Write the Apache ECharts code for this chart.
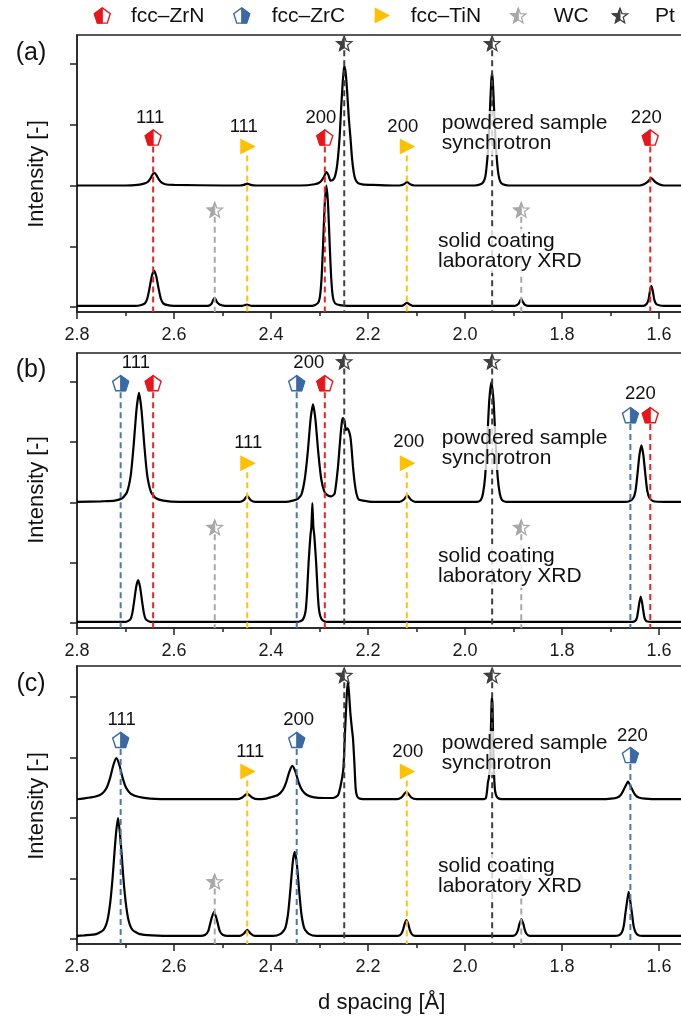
<!DOCTYPE html>
<html>
<head>
<meta charset="utf-8">
<script src="https://cdn.jsdelivr.net/npm/echarts@6.0.0/dist/echarts.min.js"></script>
<style>
  html, body { margin: 0; padding: 0; background: #fff; }
  #chart { width: 681px; height: 1017px; }
</style>
</head>
<body>
<div id="chart"></div>
<script>
const FONT = "'Liberation Sans', Arial, Helvetica, sans-serif";

// Reference reflections (d spacing, Å)
const HKL = ['111', '200', '220'];
const ZRN_D = [2.643, 2.289, 1.618];
const ZRC_D = [2.710, 2.347, 1.659];
const TIN_D = [2.449, 2.120];
const WC_D = [2.516, 1.884];
const PT_D = [2.249, 1.944];

// Diffraction patterns: [d spacing (Å), stacked intensity (a.u.)]
const A_SYNC = [[2.80,2.00],[2.70,2.00],[2.675,2.01],[2.662,2.03],[2.654,2.06],[2.649,2.11],[2.645,2.17],[2.641,2.21],[2.637,2.18],[2.632,2.11],[2.626,2.05],[2.618,2.02],[2.60,2.01],[2.50,2.00],[2.465,2.00],[2.456,2.01],[2.449,2.03],[2.442,2.01],[2.43,2.00],[2.34,2.00],[2.31,2.02],[2.298,2.06],[2.291,2.14],[2.286,2.22],[2.2815,2.17],[2.2775,2.08],[2.273,2.09],[2.269,2.13],[2.2652,2.25],[2.262,2.45],[2.2585,2.80],[2.2555,3.25],[2.2525,3.65],[2.250,3.90],[2.2485,3.96],[2.246,3.85],[2.243,3.55],[2.2395,3.10],[2.2363,2.80],[2.233,2.45],[2.2295,2.22],[2.226,2.10],[2.2206,2.04],[2.212,2.02],[2.19,2.01],[2.15,2.00],[2.135,2.00],[2.126,2.02],[2.1195,2.06],[2.113,2.02],[2.104,2.00],[1.98,2.00],[1.968,2.02],[1.962,2.06],[1.958,2.15],[1.955,2.35],[1.9515,2.70],[1.9485,3.25],[1.946,3.70],[1.9443,3.85],[1.9425,3.70],[1.940,3.25],[1.937,2.75],[1.934,2.40],[1.931,2.18],[1.927,2.06],[1.922,2.02],[1.91,2.00],[1.64,2.00],[1.631,2.02],[1.6235,2.06],[1.6157,2.12],[1.608,2.06],[1.600,2.02],[1.59,2.00],[1.55,2.00]];
const A_LAB = [[2.80,0.02],[2.68,0.02],[2.669,0.03],[2.660,0.06],[2.655,0.14],[2.6505,0.31],[2.6457,0.51],[2.6412,0.60],[2.6367,0.51],[2.6319,0.31],[2.6272,0.14],[2.6222,0.06],[2.613,0.03],[2.60,0.02],[2.53,0.02],[2.523,0.05],[2.519,0.12],[2.516,0.15],[2.512,0.09],[2.506,0.04],[2.495,0.02],[2.46,0.02],[2.4495,0.04],[2.44,0.02],[2.315,0.02],[2.3038,0.06],[2.2993,0.16],[2.2958,0.47],[2.2927,1.01],[2.2893,1.68],[2.2858,2.00],[2.2823,1.68],[2.2789,1.01],[2.2758,0.47],[2.2723,0.16],[2.2678,0.06],[2.258,0.03],[2.24,0.02],[2.13,0.02],[2.125,0.04],[2.1196,0.07],[2.114,0.04],[2.108,0.02],[1.897,0.02],[1.890,0.05],[1.886,0.11],[1.8837,0.13],[1.881,0.09],[1.877,0.04],[1.870,0.02],[1.632,0.02],[1.6257,0.05],[1.6217,0.12],[1.6187,0.26],[1.6157,0.35],[1.6127,0.26],[1.6097,0.12],[1.6057,0.05],[1.600,0.03],[1.59,0.02],[1.55,0.02]];
const B_SYNC = [[2.80,2.01],[2.75,2.02],[2.722,2.03],[2.707,2.07],[2.697,2.17],[2.6892,2.45],[2.6835,2.92],[2.6772,3.55],[2.6722,3.82],[2.6672,3.55],[2.6609,2.92],[2.6552,2.45],[2.6472,2.17],[2.637,2.07],[2.622,2.03],[2.59,2.01],[2.465,2.01],[2.456,2.04],[2.449,2.11],[2.442,2.04],[2.432,2.01],[2.37,2.01],[2.355,2.03],[2.345,2.06],[2.3374,2.13],[2.3304,2.39],[2.3244,2.82],[2.3184,3.38],[2.3134,3.63],[2.3084,3.38],[2.3024,2.82],[2.2964,2.39],[2.290,2.18],[2.2835,2.12],[2.2755,2.10],[2.2687,2.15],[2.2619,2.59],[2.2569,3.09],[2.2536,3.35],[2.2515,3.40],[2.2480,3.34],[2.2460,3.20],[2.2425,3.23],[2.2392,3.18],[2.2363,3.09],[2.2342,2.93],[2.2309,2.59],[2.2274,2.32],[2.2239,2.15],[2.2192,2.05],[2.2103,2.03],[2.19,2.01],[2.135,2.01],[2.126,2.05],[2.119,2.12],[2.112,2.05],[2.103,2.01],[1.975,2.01],[1.9676,2.04],[1.9631,2.14],[1.9586,2.42],[1.9543,3.00],[1.9501,3.68],[1.9456,4.00],[1.9411,3.68],[1.9369,3.00],[1.9326,2.42],[1.9281,2.14],[1.9236,2.04],[1.915,2.01],[1.67,2.01],[1.6613,2.02],[1.6533,2.07],[1.6483,2.20],[1.6443,2.48],[1.6403,2.79],[1.6363,2.95],[1.6323,2.79],[1.6283,2.48],[1.6243,2.20],[1.6193,2.07],[1.6113,2.02],[1.59,2.01],[1.55,2.01]];
const B_LAB = [[2.80,0.02],[2.699,0.02],[2.690,0.06],[2.686,0.16],[2.682,0.37],[2.678,0.60],[2.674,0.71],[2.670,0.60],[2.666,0.37],[2.662,0.16],[2.658,0.06],[2.649,0.02],[2.345,0.02],[2.335,0.05],[2.3287,0.20],[2.3257,0.50],[2.3225,1.00],[2.3187,1.45],[2.3167,1.60],[2.3147,1.99],[2.3127,1.60],[2.3107,1.45],[2.3069,1.00],[2.3037,0.50],[2.3007,0.20],[2.2947,0.05],[2.285,0.02],[1.655,0.02],[1.6497,0.03],[1.6457,0.08],[1.6427,0.22],[1.6407,0.33],[1.6377,0.44],[1.6347,0.33],[1.6327,0.22],[1.6297,0.08],[1.6257,0.03],[1.61,0.02],[1.55,0.02]];
const C_SYNC = [[2.80,2.31],[2.7888,2.32],[2.7638,2.35],[2.7488,2.40],[2.7388,2.50],[2.7322,2.65],[2.7248,2.88],[2.7188,2.99],[2.7128,2.88],[2.7054,2.65],[2.6988,2.50],[2.6888,2.40],[2.6738,2.35],[2.6488,2.32],[2.60,2.31],[2.47,2.31],[2.459,2.34],[2.449,2.40],[2.439,2.34],[2.428,2.31],[2.41,2.32],[2.4009,2.34],[2.3859,2.38],[2.3759,2.46],[2.3689,2.585],[2.3619,2.77],[2.3559,2.86],[2.3499,2.77],[2.3429,2.585],[2.3359,2.46],[2.3259,2.38],[2.3109,2.34],[2.29,2.33],[2.2722,2.33],[2.2619,2.375],[2.2563,2.54],[2.2515,2.76],[2.2495,3.00],[2.248,3.31],[2.2455,3.75],[2.2432,4.10],[2.2412,4.25],[2.239,4.05],[2.2365,3.75],[2.2335,3.50],[2.2309,3.31],[2.228,2.90],[2.2254,2.48],[2.2225,2.36],[2.2171,2.32],[2.20,2.31],[2.14,2.31],[2.131,2.34],[2.1208,2.43],[2.111,2.34],[2.10,2.31],[1.962,2.31],[1.957,2.33],[1.9545,2.45],[1.9526,2.60],[1.951,2.65],[1.9485,2.85],[1.9465,3.50],[1.9452,3.90],[1.9443,4.00],[1.9432,3.85],[1.942,3.30],[1.940,2.70],[1.938,2.45],[1.935,2.36],[1.930,2.32],[1.92,2.31],[1.72,2.31],[1.6989,2.32],[1.6859,2.34],[1.6789,2.38],[1.6736,2.455],[1.6689,2.53],[1.6639,2.60],[1.6589,2.53],[1.6542,2.455],[1.6489,2.38],[1.6419,2.34],[1.6289,2.32],[1.60,2.31],[1.55,2.31]];
const C_LAB = [[2.80,0.05],[2.7855,0.06],[2.7605,0.08],[2.7455,0.15],[2.7375,0.30],[2.7315,0.60],[2.7265,1.02],[2.7235,1.35],[2.7195,1.75],[2.7155,2.00],[2.7115,1.75],[2.7075,1.35],[2.7045,1.02],[2.6995,0.60],[2.6935,0.30],[2.6855,0.15],[2.6705,0.08],[2.6455,0.06],[2.60,0.05],[2.5455,0.05],[2.5355,0.07],[2.5295,0.13],[2.5255,0.25],[2.5215,0.37],[2.5175,0.45],[2.5135,0.37],[2.5095,0.25],[2.5055,0.13],[2.4995,0.07],[2.4895,0.05],[2.465,0.05],[2.456,0.09],[2.449,0.15],[2.442,0.09],[2.433,0.05],[2.3961,0.05],[2.3811,0.08],[2.3711,0.17],[2.3651,0.40],[2.3608,0.745],[2.3551,1.27],[2.3511,1.44],[2.3471,1.27],[2.3414,0.745],[2.3371,0.40],[2.3311,0.17],[2.3211,0.08],[2.3061,0.05],[2.1388,0.05],[2.1318,0.08],[2.1278,0.15],[2.1248,0.24],[2.1208,0.31],[2.1168,0.24],[2.1138,0.15],[2.1098,0.08],[2.1028,0.05],[1.9017,0.05],[1.8947,0.08],[1.8907,0.15],[1.8877,0.25],[1.8837,0.33],[1.8797,0.25],[1.8767,0.15],[1.8727,0.08],[1.8657,0.05],[1.6925,0.05],[1.6825,0.06],[1.6765,0.11],[1.6725,0.22],[1.6694,0.415],[1.6655,0.64],[1.6625,0.78],[1.6595,0.64],[1.6556,0.415],[1.6525,0.22],[1.6485,0.11],[1.6425,0.06],[1.6325,0.05],[1.55,0.05]];

const LEGEND_TEXT = { ZrN: 'fcc–ZrN', ZrC: 'fcc–ZrC', TiN: 'fcc–TiN', WC: 'WC', Pt: 'Pt' };
const PANEL_TAGS = ['(a)', '(b)', '(c)'];
const SYNC_NOTE = 'powdered sample\nsynchrotron';
const LAB_NOTE = 'solid coating\nlaboratory XRD';

const PHASE_D = { ZrN: ZRN_D, ZrC: ZRC_D, TiN: TIN_D, WC: WC_D, Pt: PT_D };
const PHASE_COLOR = { ZrN: '#e8161b', ZrC: '#3a69a6', TiN: '#ffc000', WC: '#a8a8a8', Pt: '#404040' };
const DASH_COLOR = { ZrN: '#ea2424', ZrC: '#4a78b2', TiN: '#ffc20e', WC: '#a8a8a8', Pt: '#404040' };

// Layout of each panel: grid box, y range (one tick step = 1), marker/label heights
const PANELS = [
  {
    top: 35, height: 277, yMin: -0.082, yMax: 4.477, sync: A_SYNC, lab: A_LAB,
    marks: [['ZrN',0,2.79],['ZrN',1,2.79],['ZrN',2,2.79],['TiN',0,2.64],['TiN',1,2.64],['WC',0,1.60],['WC',1,1.60],['Pt',0,4.34],['Pt',1,4.34]],
    labels: [[ZRN_D[0],3.11,HKL[0],-3],[ZRN_D[1],3.11,HKL[1],-4],[ZRN_D[2],3.11,HKL[2],-4],[TIN_D[0],2.97,HKL[0],-3.5],[TIN_D[1],2.97,HKL[1],-4]],
    tagY: 53, titleY: 174, noteSyncY: 111, noteLabY: 229
  },
  {
    top: 353, height: 275, yMin: -0.083, yMax: 4.481, sync: B_SYNC, lab: B_LAB,
    marks: [['ZrC',0,3.98],['ZrN',0,3.98],['ZrC',1,3.98],['ZrN',1,3.98],['ZrC',2,3.45],['ZrN',2,3.45],['TiN',0,2.65],['TiN',1,2.65],['WC',0,1.59],['WC',1,1.59],['Pt',0,4.34],['Pt',1,4.34]],
    labels: [[(ZRC_D[0]+ZRN_D[0])/2,4.31,HKL[0],-1],[(ZRC_D[1]+ZRN_D[1])/2,4.31,HKL[1],-2],[(ZRC_D[2]+ZRN_D[2])/2,3.81,HKL[2],0],[TIN_D[0],2.99,HKL[0],1],[TIN_D[1],3.00,HKL[1],2]],
    tagY: 370, titleY: 490, noteSyncY: 426, noteLabY: 544
  },
  {
    top: 666, height: 278, yMin: -0.083, yMax: 4.512, sync: C_SYNC, lab: C_LAB,
    marks: [['ZrC',0,3.29],['ZrC',1,3.29],['ZrC',2,3.04],['TiN',0,2.77],['TiN',1,2.77],['WC',0,0.95],['WC',1,0.95],['Pt',0,4.36],['Pt',1,4.36]],
    labels: [[ZRC_D[0],3.62,HKL[0],1],[ZRC_D[1],3.62,HKL[1],2],[ZRC_D[2],3.36,HKL[2],2],[TIN_D[0],3.10,HKL[0],3],[TIN_D[1],3.10,HKL[1],1]],
    tagY: 684, titleY: 806, noteSyncY: 731, noteLabY: 854
  }
];

// Marker glyphs: half-filled pentagons, right-pointing triangle, half-filled stars
function regular(cx, cy, n, rOuter, rInner) {
  const pts = [];
  const step = 360 / n;
  for (let k = 0; k < n; k++) {
    const a = (-90 + step * k) * Math.PI / 180;
    const r = (rInner && k % 2) ? rInner : rOuter;
    pts.push([cx + r * Math.cos(a), cy + r * Math.sin(a)]);
  }
  return pts;
}
function markerEls(kind, cx, cy, z) {
  const c = PHASE_COLOR[kind];
  if (kind === 'ZrN' || kind === 'ZrC') {
    const r = 8.4, py = cy + 0.8;
    const p = regular(cx, py, 5, r);
    const bottom = [cx, py + r * Math.sin(54 * Math.PI / 180)];
    const half = kind === 'ZrN' ? [p[0], p[4], p[3], bottom] : [p[0], p[1], p[2], bottom];
    return [
      { type: 'polygon', z: z, shape: { points: p }, style: { fill: '#fff', stroke: c, lineWidth: 1.4 } },
      { type: 'polygon', z: z, shape: { points: half }, style: { fill: c, stroke: c, lineWidth: 1 } }
    ];
  }
  if (kind === 'TiN') {
    return [{ type: 'polygon', z: z, shape: { points: [[cx - 7, cy - 8], [cx + 8.5, cy], [cx - 7, cy + 8]] }, style: { fill: c } }];
  }
  const s = regular(cx, cy + 0.8, 10, 8, 3.4);
  return [
    { type: 'polygon', z: z, shape: { points: s }, style: { fill: '#fff', stroke: c, lineWidth: 1.3 } },
    { type: 'polygon', z: z, shape: { points: [s[0], s[9], s[8], s[7], s[6], s[5]] }, style: { fill: c, stroke: c, lineWidth: 1 } }
  ];
}

const grids = [], xAxes = [], yAxes = [], series = [];
PANELS.forEach((p, gi) => {
  grids.push({ left: 77, top: p.top, width: 679, height: p.height, outerBoundsMode: 'none', containLabel: false,
    show: true, borderColor: '#222', borderWidth: 1.5, backgroundColor: 'transparent' });
  xAxes.push({
    gridIndex: gi, type: 'value', inverse: true, min: 1.4, max: 2.8, interval: 0.2,
    axisLine: { show: true, onZero: false, lineStyle: { color: '#222', width: 1.5 } },
    axisTick: { show: true, inside: false, length: 7, lineStyle: { color: '#222', width: 1.5 } },
    minorTick: { show: true, splitNumber: 2, length: 4, lineStyle: { color: '#222', width: 1.5 } },
    axisLabel: { show: true, margin: 14, fontSize: 18, fontFamily: FONT, color: '#1a1a1a', formatter: v => v.toFixed(1) },
    splitLine: { show: false }, minorSplitLine: { show: false }
  });
  yAxes.push({
    gridIndex: gi, type: 'value', min: p.yMin, max: p.yMax,
    axisLine: { show: true, lineStyle: { color: '#222', width: 1.5 } },
    axisTick: { show: true, inside: false, length: 7, customValues: [0, 1, 2, 3, 4], lineStyle: { color: '#222', width: 1.5 } },
    axisLabel: { show: false }, splitLine: { show: false }
  });
  [p.sync, p.lab].forEach(curve => {
    series.push({
      type: 'line', xAxisIndex: gi, yAxisIndex: gi, data: curve, symbol: 'none', showSymbol: false,
      smooth: 0.2, lineStyle: { color: '#000', width: 2.2 }, z: 2, silent: true
    });
  });
  // reference reflections: dashed drop line + phase marker
  series.push({
    type: 'custom', xAxisIndex: gi, yAxisIndex: gi, z: 4, silent: true, clip: false,
    data: p.marks.map(([ph, k, y], idx) => [PHASE_D[ph][k], y, idx]),
    renderItem: (params, api) => {
      const ph = p.marks[api.value(2)][0];
      const c = api.coord([api.value(0), api.value(1)]);
      const bottom = api.coord([api.value(0), p.yMin])[1];
      const gap = (ph === 'WC' || ph === 'Pt') ? 7 : 9;
      return {
        type: 'group', children: [
          { type: 'line', shape: { x1: c[0], y1: c[1] + gap, x2: c[0], y2: bottom },
            style: { stroke: DASH_COLOR[ph], lineWidth: 2, lineDash: [6, 4] } }
        ].concat(markerEls(ph, c[0], c[1]))
      };
    }
  });
  // Miller index labels
  series.push({
    type: 'custom', xAxisIndex: gi, yAxisIndex: gi, z: 5, silent: true, clip: false,
    data: p.labels.map(([d, y], idx) => [d, y, idx]),
    renderItem: (params, api) => {
      const lab = p.labels[api.value(2)];
      const c = api.coord([api.value(0), api.value(1)]);
      return { type: 'text', style: { text: lab[2], x: c[0] + lab[3], y: c[1], align: 'center', verticalAlign: 'middle', font: '18.5px ' + FONT, fill: '#111' } };
    }
  });
});

// Legend, panel tags, axis titles and pattern notes
const graphics = [];
const LEGEND_POS = [['ZrN', 102.3, 131], ['ZrC', 241.7, 271.7], ['TiN', 381.7, 410.7], ['WC', 518.3, 553.7], ['Pt', 620, 655]];
LEGEND_POS.forEach(([ph, mx, tx]) => {
  markerEls(ph, mx, 15.5, 10).forEach(el => graphics.push(el));
  graphics.push({ type: 'text', z: 10, x: tx, y: 16.7, style: { text: LEGEND_TEXT[ph], fontSize: 21, fontFamily: FONT, fill: '#111', align: 'left', verticalAlign: 'middle' } });
});
PANELS.forEach((p, gi) => {
  graphics.push({ type: 'text', z: 10, x: 31, y: p.tagY, style: { text: PANEL_TAGS[gi], fontSize: 25, fontFamily: FONT, fill: '#111', align: 'center', verticalAlign: 'middle' } });
  graphics.push({ type: 'text', z: 10, x: 36.5, y: p.titleY, rotation: Math.PI / 2, style: { text: 'Intensity [-]', fontSize: 22, fontFamily: FONT, fill: '#111', align: 'center', verticalAlign: 'middle' } });
  graphics.push({ type: 'text', z: 50, x: 438.7, y: p.noteSyncY, style: { text: SYNC_NOTE, fontSize: 21, lineHeight: 20, fontFamily: FONT, fill: '#111', align: 'left', verticalAlign: 'top', backgroundColor: 'rgba(255,255,255,0.78)', padding: [2, 3] } });
  graphics.push({ type: 'text', z: 50, x: 435, y: p.noteLabY, style: { text: LAB_NOTE, fontSize: 21, lineHeight: 20, fontFamily: FONT, fill: '#111', align: 'left', verticalAlign: 'top', backgroundColor: 'rgba(255,255,255,0.78)', padding: [2, 3] } });
});
graphics.push({ type: 'text', z: 10, x: 381.7, y: 1003, style: { text: 'd spacing [Å]', fontSize: 22, fontFamily: FONT, fill: '#111', align: 'center', verticalAlign: 'middle' } });

const chart = echarts.init(document.getElementById('chart'), null, { renderer: 'canvas' });
chart.setOption({
  animation: false,
  backgroundColor: '#fff',
  grid: grids,
  xAxis: xAxes,
  yAxis: yAxes,
  series: series,
  graphic: { elements: graphics }
});
</script>
</body>
</html>
